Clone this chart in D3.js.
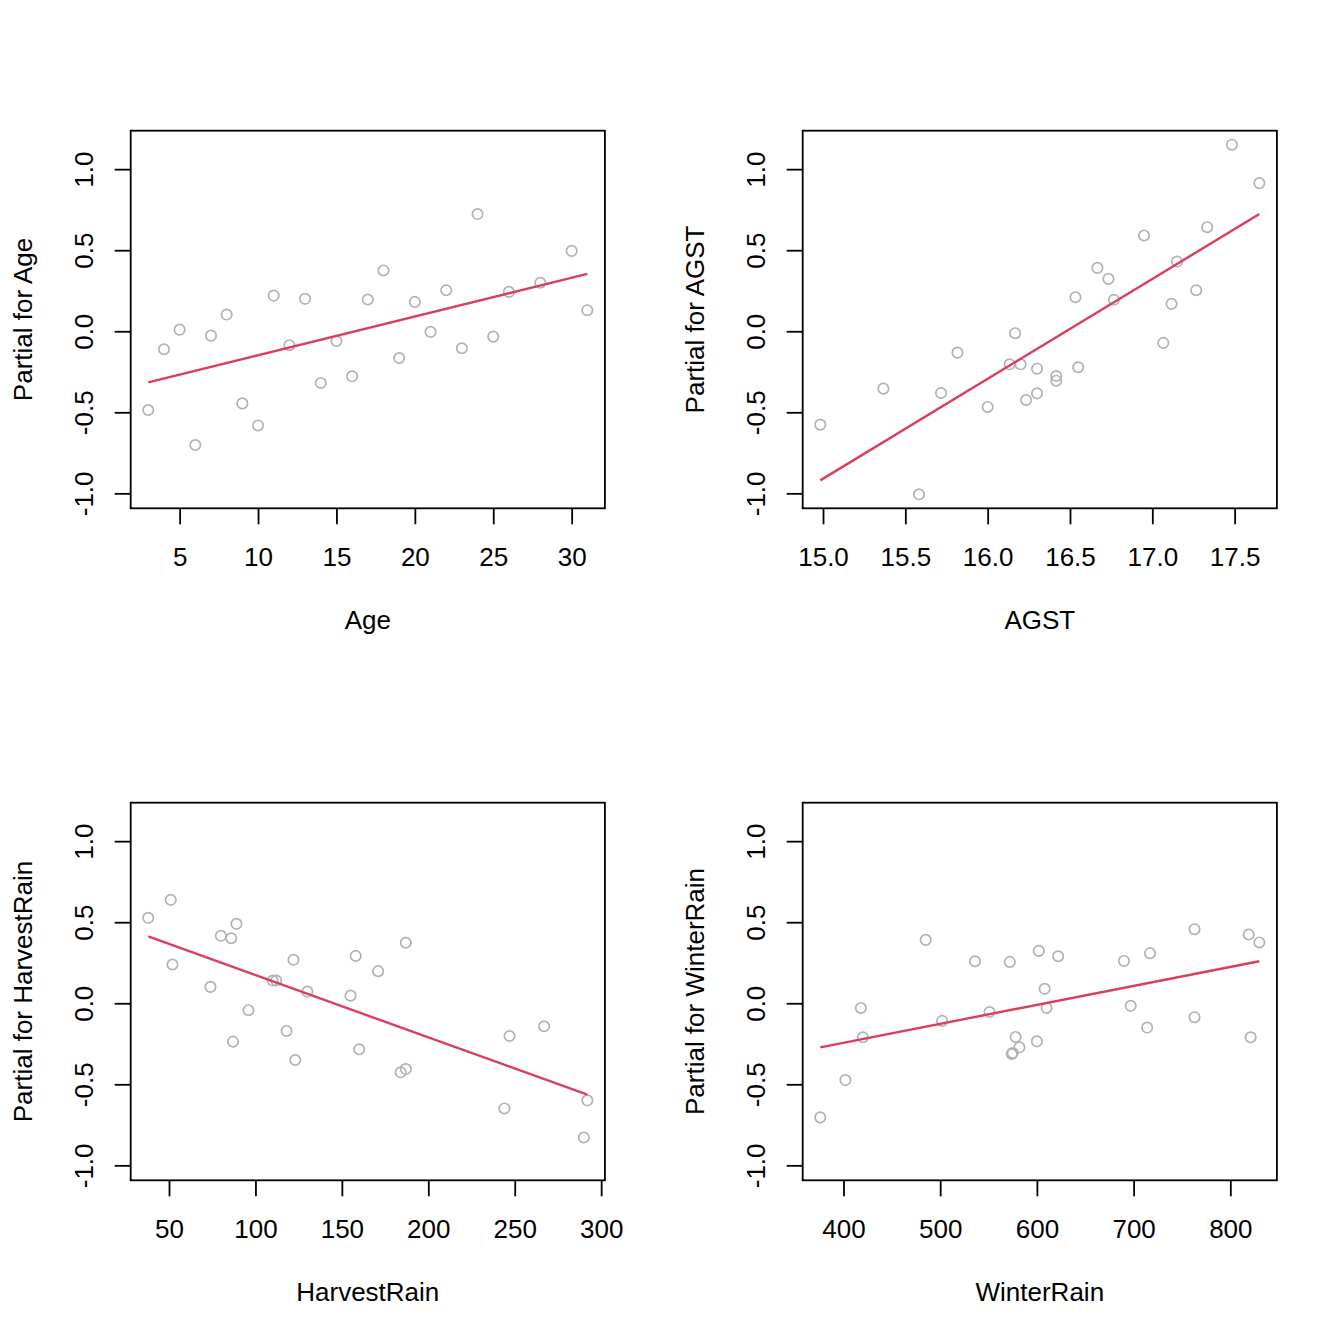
<!DOCTYPE html>
<html>
<head>
<meta charset="utf-8">
<script src="https://cdn.jsdelivr.net/npm/d3@7"></script>
<style>
  html, body { margin: 0; padding: 0; background: #fff; }
  svg text { font-family: "Liberation Sans", Arial, Helvetica, sans-serif; fill: #000; }
</style>
</head>
<body>
<svg id="chart" width="1344" height="1344"></svg>
<script>
// ---- data ----
const ageX   = [3,4,5,6,7,8,9,10,11,12,13,14,15,16,17,18,19,20,21,22,23,24,25,26,28,30,31];
const ageRes = [-0.486,-0.111,0.010,-0.702,-0.027,0.103,-0.445,-0.581,0.220,-0.086,0.200,-0.319,-0.060,-0.278,0.196,0.375,-0.165,0.181,-0.004,0.253,-0.105,0.723,-0.033,0.243,0.299,0.496,0.130];
const ageFitX = [3, 31];
const ageFit  = [-0.315, 0.354];

const agstX   = [14.9833,15.3667,15.5833,15.7167,15.8167,16.0,16.1333,16.1667,16.2,16.2333,16.3,16.3,16.4167,16.4167,16.55,16.5333,16.6667,16.7333,16.7667,16.95,17.0667,17.1167,17.15,17.2667,17.3333,17.4833,17.65];
const agstRes = [-0.576,-0.354,-1.006,-0.381,-0.132,-0.467,-0.204,-0.012,-0.204,-0.424,-0.231,-0.383,-0.276,-0.305,-0.222,0.210,0.391,0.323,0.194,0.591,-0.072,0.169,0.430,0.253,0.642,1.151,0.914];
const agstFitX = [14.9833, 17.65];
const agstFit  = [-0.920, 0.723];

const hrX   = [38,51,52,74,80,86,89,87,96,110,112,118,122,123,130,155,158,160,171,184,187,187,244,247,267,292,290];
const hrRes = [0.527,0.638,0.239,0.101,0.416,0.401,0.490,-0.237,-0.043,0.140,0.140,-0.171,0.268,-0.350,0.072,0.047,0.292,-0.284,0.198,-0.426,-0.406,0.373,-0.649,-0.202,-0.142,-0.599,-0.828];
const hrFitX = [38, 292];
const hrFit  = [0.412, -0.564];

const wrX   = [376,402,418,420,485,502,536,551,572,574,575,578,582,600,602,608,610,622,690,697,714,717,763,763,819,821,830];
const wrRes = [-0.704,-0.474,-0.029,-0.210,0.391,-0.109,0.259,-0.054,0.255,-0.313,-0.307,-0.208,-0.272,-0.235,0.323,0.089,-0.029,0.290,0.261,-0.016,-0.150,0.309,0.457,-0.086,0.424,-0.210,0.375];
const wrFitX = [376, 830];
const wrFit  = [-0.272, 0.259];

const yTicks    = [-1.0, -0.5, 0.0, 0.5, 1.0];
const ageTicks  = [5, 10, 15, 20, 25, 30];
const agstTicks = [15.0, 15.5, 16.0, 16.5, 17.0, 17.5];
const hrTicks   = [50, 100, 150, 200, 250, 300];
const wrTicks   = [400, 500, 600, 700, 800];

const panels = [
  {name: "Age",         x: ageX,  res: ageRes,  fx: ageFitX,  fy: ageFit,  ticks: ageTicks,  fmt: d => String(d)},
  {name: "AGST",        x: agstX, res: agstRes, fx: agstFitX, fy: agstFit, ticks: agstTicks, fmt: d => d.toFixed(1)},
  {name: "HarvestRain", x: hrX,   res: hrRes,   fx: hrFitX,   fy: hrFit,   ticks: hrTicks,   fmt: d => String(d)},
  {name: "WinterRain",  x: wrX,   res: wrRes,   fx: wrFitX,   fy: wrFit,   ticks: wrTicks,   fmt: d => String(d)}
];

// ---- layout ----
const svg = d3.select("#chart");
const cell = 672;
const m = {left: 130.7, right: 67.1, top: 130.7, bottom: 163.7};
const fontSize = 26;
const tickLen = 16;

function padded(ext) {
  const r = ext[1] - ext[0];
  return [ext[0] - 0.04 * r, ext[1] + 0.04 * r];
}

const allY = [].concat(ageRes, agstRes, hrRes, wrRes, ageFit, agstFit, hrFit, wrFit);
const yDomain = padded(d3.extent(allY));
const yFmt = d => d.toFixed(1);

panels.forEach((p, i) => {
  const ox = (i % 2) * cell, oy = Math.floor(i / 2) * cell;
  const g = svg.append("g").attr("transform", `translate(${ox},${oy})`);
  const x0 = m.left, x1 = cell - m.right, y0 = m.top, y1 = cell - m.bottom;

  const xs = d3.scaleLinear().domain(padded(d3.extent(p.x))).range([x0, x1]);
  const ys = d3.scaleLinear().domain(yDomain).range([y1, y0]);

  // bottom axis
  const xAxis = g.append("g").attr("transform", `translate(0,${y1})`)
    .call(d3.axisBottom(xs).tickValues(p.ticks).tickFormat(p.fmt).tickSize(tickLen).tickPadding(0));
  xAxis.select(".domain").remove();
  xAxis.selectAll("line").attr("stroke", "#000").attr("stroke-width", 1.8);
  xAxis.selectAll("text").attr("font-size", fontSize).attr("dy", null)
    .attr("y", 58).attr("font-family", null);

  // left axis
  const yAxis = g.append("g").attr("transform", `translate(${x0},0)`)
    .call(d3.axisLeft(ys).tickValues(yTicks).tickFormat(yFmt).tickSize(tickLen).tickPadding(0));
  yAxis.select(".domain").remove();
  yAxis.selectAll("line").attr("stroke", "#000").attr("stroke-width", 1.8);
  yAxis.selectAll("text").attr("font-size", fontSize).attr("font-family", null)
    .attr("x", null).attr("dy", null)
    .attr("text-anchor", "middle")
    .attr("transform", "translate(-38,0) rotate(-90)");

  // box
  g.append("rect").attr("x", x0).attr("y", y0).attr("width", x1 - x0).attr("height", y1 - y0)
    .attr("fill", "none").attr("stroke", "#000").attr("stroke-width", 1.8);

  // points
  g.append("g").selectAll("circle").data(p.x.map((v, j) => [v, p.res[j]])).join("circle")
    .attr("cx", d => xs(d[0])).attr("cy", d => ys(d[1])).attr("r", 5.2)
    .attr("fill", "none").attr("stroke", "#B2B2B2").attr("stroke-width", 1.7);

  // fitted term line
  g.append("path").datum(p.fx.map((v, j) => [v, p.fy[j]]))
    .attr("d", d3.line().x(d => xs(d[0])).y(d => ys(d[1])))
    .attr("fill", "none").attr("stroke", "#DC3D5F").attr("stroke-width", 2.4);

  // labels
  g.append("text").attr("x", (x0 + x1) / 2).attr("y", y1 + 121)
    .attr("text-anchor", "middle").attr("font-size", fontSize).text(p.name);
  g.append("text").attr("transform", `translate(${x0 - 99},${(y0 + y1) / 2}) rotate(-90)`)
    .attr("text-anchor", "middle").attr("font-size", fontSize).text("Partial for " + p.name);
});
</script>
</body>
</html>
